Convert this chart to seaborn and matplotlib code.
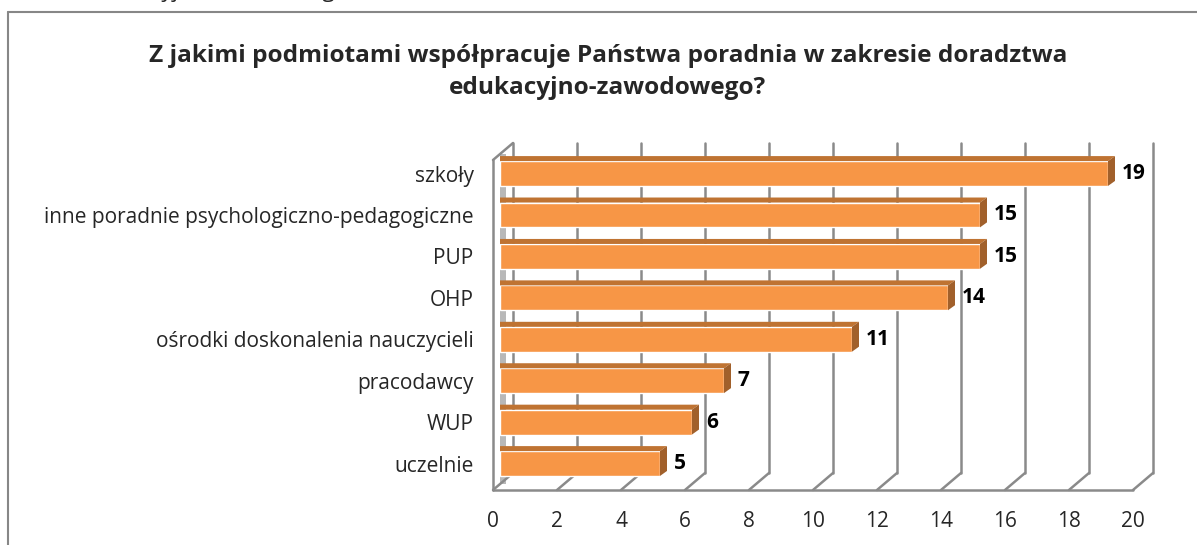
import numpy as np
import matplotlib
matplotlib.use("Agg")
import matplotlib.pyplot as plt
from matplotlib.lines import Line2D
from matplotlib.patches import Polygon
from matplotlib.transforms import IdentityTransform, ScaledTranslation
import pandas as pd
import seaborn as sns

# data
categories = ['szkoły', 'inne poradnie psychologiczno-pedagogiczne', 'PUP', 'OHP',
              'ośrodki doskonalenia nauczycieli', 'pracodawcy', 'WUP', 'uczelnie']
counts = [19, 15, 15, 14, 11, 7, 6, 5]
x_ticks = list(range(0, 21, 2))
title = 'Z jakimi podmiotami współpracuje Państwa poradnia w zakresie doradztwa\nedukacyjno-zawodowego?'

sns.set_style('white')
plt.rcParams['font.family'] = ['Open Sans', 'DejaVu Sans']

W, H = 1197, 545
fig = plt.figure(figsize=(W / 100, H / 100), dpi=100)

def fx(x):
    return x / W

def fy(y):
    return 1 - y / H

# bar plane axes (pixel box of the reference)
left, right, top, bottom = 500, 1140, 154, 484
ax = fig.add_axes([fx(left), fy(bottom), fx(right - left), (bottom - top) / H])

df = pd.DataFrame({'cat': categories, 'n': counts})
sns.barplot(data=df, y='cat', x='n', orient='h', color='#F79646', saturation=1,
            width=0.6, ax=ax, zorder=5)

ax.set_xlim(0, 20)
ax.set_ylim(7.494, -0.471)
for s in ax.spines.values():
    s.set_visible(False)
ax.set_xlabel('')
ax.set_ylabel('')
ax.set_xticks(x_ticks)
ax.set_xticklabels([str(t) for t in x_ticks])
ax.tick_params(axis='x', length=0, pad=19.5, labelsize=15)
ax.tick_params(axis='y', length=0, pad=19, labelsize=15)
for lab in ax.get_xticklabels():
    lab.set_transform(lab.get_transform() + ScaledTranslation(-0.07, 0, fig.dpi_scale_trans))

fig.canvas.draw()

grid_c = '#8a8a8a'
back = np.array([13, 11])    # image offset of back wall (right, up)
front = np.array([-7, -6])   # image offset of front edge

def disp(x, y, off):
    p = ax.transData.transform((x, y))
    return p + off

ylo, yhi = ax.get_ylim()   # ylo = bottom, yhi = top

def line(pts, color=grid_c, lw=1.8, z=2):
    pts = np.array(pts)
    ax.add_line(Line2D(pts[:, 0], pts[:, 1], transform=IdentityTransform(),
                       color=color, lw=lw, clip_on=False, zorder=z))

# back wall vertical grid lines and floor diagonals
for v in x_ticks:
    line([disp(v, ylo, back), disp(v, yhi, back)])
    line([disp(v, ylo, front), disp(v, ylo, back)])
# front floor edge
line([disp(0, ylo, front), disp(20, ylo, front)])
# left wall
line([disp(0, ylo, front), disp(0, yhi, front)])
line([disp(0, yhi, front), disp(0, yhi, back)])
wall = [disp(0, ylo, np.array([0, 0])), disp(0, yhi, np.array([0, 0])),
        disp(0, yhi, np.array([6, 0])), disp(0, ylo, np.array([6, 0]))]
ax.add_patch(Polygon(wall, closed=True, transform=IdentityTransform(),
                     facecolor='#b8b8b8', edgecolor='none', clip_on=False, zorder=1))

# 3D faces of the bars
d = np.array([7, 5])
for p in ax.patches[:]:
    if not isinstance(p, matplotlib.patches.Rectangle):
        continue
    x0, w, y0, h = p.get_x(), p.get_width(), p.get_y(), p.get_height()
    tl = ax.transData.transform((x0, y0))
    tr = ax.transData.transform((x0 + w, y0))
    br = ax.transData.transform((x0 + w, y0 + h))
    topf = [tl, tr, tr + d, (tl[0], tl[1] + d[1])]
    side = [tr, br, br + d, tr + d]
    ax.add_patch(Polygon(topf, closed=True, transform=IdentityTransform(),
                         facecolor='#BF7332', edgecolor='none', clip_on=False, zorder=6))
    ax.add_patch(Polygon(side, closed=True, transform=IdentityTransform(),
                         facecolor='#A1602B', edgecolor='none', clip_on=False, zorder=6))

ax.bar_label(ax.containers[0], padding=10, fontsize=15, fontweight='bold', color='black')

# title
fig.text(fx(608), fy(72), title, ha='center', va='center', fontsize=17.6,
         fontweight='bold', linespacing=1.4)

# partially visible text of the chart above (only descenders show)
fig.text(fx(88), fy(-3), 'edukacyjno-zawodowego', ha='left', va='baseline', fontsize=16)

# chart frame
fig.add_artist(Line2D([fx(8), fx(8)], [fy(12), 0], color='#878787', lw=1.5))
fig.add_artist(Line2D([fx(8), 1], [fy(12), fy(12)], color='#878787', lw=1.5))

fig.savefig('out.png', dpi=100)
